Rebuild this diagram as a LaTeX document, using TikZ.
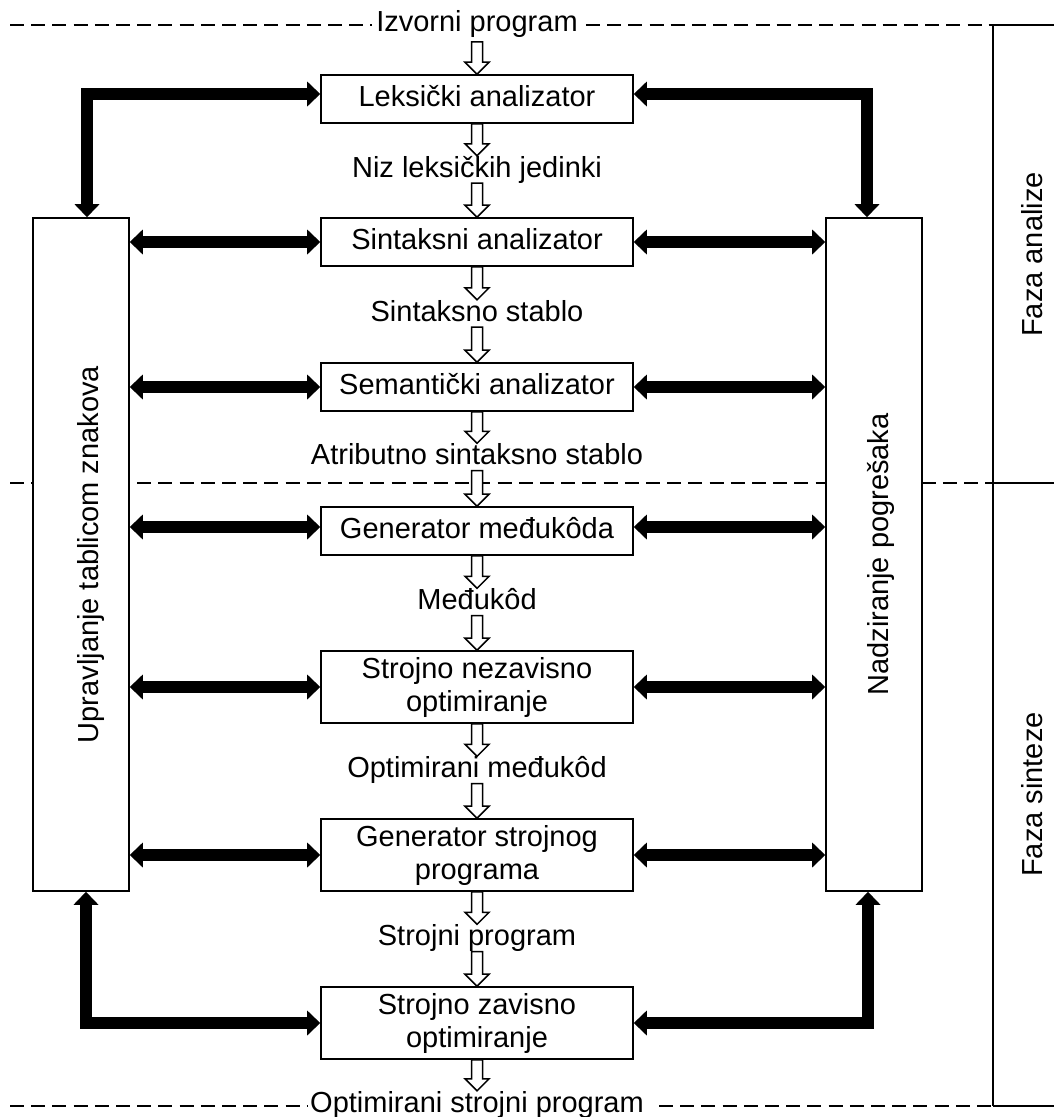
\documentclass[tikz,border=0pt]{standalone}
\usepackage{fontspec}
\setmainfont{Liberation Sans}
\usetikzlibrary{arrows.meta,calc,backgrounds}
\newcommand\hollowarrow[2]{\path[harrow] let \p1=(#1), \p2=(#2) in
  (\x1-5.5pt,\y1) -- (\x1-5.5pt,\y2+12pt) -- (\x1-12pt,\y2+12pt) -- (\x1,\y2)
  -- (\x1+12pt,\y2+12pt) -- (\x1+5.5pt,\y2+12pt) -- (\x1+5.5pt,\y1) -- cycle;}
\begin{document}
\begin{tikzpicture}[x=1pt,y=-1pt,
  every node/.style={font=\fontsize{29}{33}\selectfont},
  cbox/.style={draw,line width=1.6pt,fill=white,minimum width=312pt,minimum height=48pt,inner sep=0pt,text height=20pt,text depth=6pt},
  cboxtwo/.style={draw,line width=1.6pt,fill=white,minimum width=312pt,minimum height=72pt,inner sep=0pt,align=center},
  sidebox/.style={draw,line width=1.6pt,fill=white,minimum width=96pt,minimum height=673pt,inner sep=0pt},
  lbl/.style={anchor=base,inner sep=0pt,text height=21pt,text depth=6pt},
  vlbl/.style={anchor=base,inner sep=0pt,rotate=90},
  thk/.style={line width=12.5pt,line join=miter,{Triangle[width=25pt,length=13pt,line width=0pt]}-{Triangle[width=25pt,length=13pt,line width=0pt]}},
  harrow/.style={draw,fill=white,line width=1.5pt,line join=miter},
  dsh/.style={line width=1.6pt,dash pattern=on 14pt off 7.2pt},
  sol/.style={line width=1.6pt}]
\useasboundingbox (0,0) rectangle (1054,1117);

% coordinates of the phase frame
\coordinate (tl) at (10,25);
\coordinate (tv) at (993,25);
\coordinate (te) at (1054,25);
\coordinate (ml) at (10,483);
\coordinate (mv) at (993,483);
\coordinate (me) at (1054,483);
\coordinate (bl) at (10,1106);
\coordinate (bv) at (993,1106);
\coordinate (be) at (1054,1106);

% central boxes
\node[cbox] (lex) at (477,99) {Leksički analizator};
\node[cbox] (sin) at (477,242) {Sintaksni analizator};
\node[cbox] (sem) at (477,387) {Semantički analizator};
\node[cbox] (gen) at (477,531) {Generator međukôda};
\node[cboxtwo] (sno) at (477,687) {Strojno nezavisno\\optimiranje};
\node[cboxtwo] (gsp) at (477,855) {Generator strojnog\\programa};
\node[cboxtwo] (szo) at (477,1023) {Strojno zavisno\\optimiranje};

% side boxes
\node[sidebox] (utz) at (81,554.5) {};
\node[sidebox] (enp) at (874,554.5) {};
\node[vlbl] (utzt) at (98,554.5) {Upravljanje tablicom znakova};
\node[vlbl] (enpt) at (888,554.5) {Nadziranje pogrešaka};

% phase labels
\node[vlbl] (fa) at (1042,254.5) {Faza analize};
\node[vlbl] (fs) at (1042,794.5) {Faza sinteze};

% flow labels
\node[lbl] (izv) at (477,31.7) {Izvorni program};
\node[lbl] (nlj) at (477,177) {Niz leksičkih jedinki};
\node[lbl] (sst) at (477,321) {Sintaksno stablo};
\node[lbl] (ass) at (477,464.5) {Atributno sintaksno stablo};
\node[lbl] (mk) at (477,609.5) {Međukôd};
\node[lbl] (omk) at (477,777.5) {Optimirani međukôd};
\node[lbl] (sp) at (477,945.5) {Strojni program};
\node[lbl] (osp) at (477,1112) {Optimirani strojni program};

% shifted attachment points
\coordinate (lexl) at ([yshift=5pt]lex.west);
\coordinate (lexr) at ([yshift=5pt]lex.east);
\coordinate (genl) at ([yshift=4pt]gen.west);
\coordinate (genr) at ([yshift=4pt]gen.east);
\coordinate (izvs) at ([yshift=-4pt]izv.south);

\begin{scope}[on background layer]
  % dashed phase lines
  \draw[dsh] (tl) -- ($(izv.west |- tl)+(-4,0)$);
  \draw[dsh] ($(izv.east |- tl)+(8,0)$) -- (tv);
  \draw[dsh] (ml) -- (mv);
  \draw[dsh] (bl) -- ($(osp.west |- bl)+(-3,0)$);
  \draw[dsh] ($(osp.east |- bl)+(15,0)$) -- (bv);
  % solid frame
  \draw[sol] (tv) -- (bv);
  \draw[sol] (tv) -- (te);
  \draw[sol] (mv) -- (me);
  \draw[sol] (bv) -- (be);
  % hollow flow arrows
  \hollowarrow{izvs}{lex.north}
  \hollowarrow{lex.south}{nlj.north}
  \hollowarrow{nlj.south}{sin.north}
  \hollowarrow{sin.south}{sst.north}
  \hollowarrow{sst.south}{sem.north}
  \hollowarrow{sem.south}{ass.north}
  \hollowarrow{ass.south}{gen.north}
  \hollowarrow{gen.south}{mk.north}
  \hollowarrow{mk.south}{sno.north}
  \hollowarrow{sno.south}{omk.north}
  \hollowarrow{omk.south}{gsp.north}
  \hollowarrow{gsp.south}{sp.north}
  \hollowarrow{sp.south}{szo.north}
  \hollowarrow{szo.south}{osp.north}
\end{scope}

% thick elbow arrows
\draw[thk] ($(utz.north)+(6,0)$) |- (lexl);
\draw[thk] (lexr) -| ($(enp.north)+(-7,0)$);
\draw[thk] ($(utz.south)+(5,0)$) |- (szo.west);
\draw[thk] (szo.east) -| ($(enp.south)+(-6,0)$);

% thick horizontal arrows
\draw[thk] (utz.east |- sin.west) -- (sin.west);
\draw[thk] (sin.east) -- (enp.west |- sin.east);
\draw[thk] (utz.east |- sem.west) -- (sem.west);
\draw[thk] (sem.east) -- (enp.west |- sem.east);
\draw[thk] (utz.east |- genl) -- (genl);
\draw[thk] (genr) -- (enp.west |- genr);
\draw[thk] (utz.east |- sno.west) -- (sno.west);
\draw[thk] (sno.east) -- (enp.west |- sno.east);
\draw[thk] (utz.east |- gsp.west) -- (gsp.west);
\draw[thk] (gsp.east) -- (enp.west |- gsp.east);
\end{tikzpicture}
\end{document}
